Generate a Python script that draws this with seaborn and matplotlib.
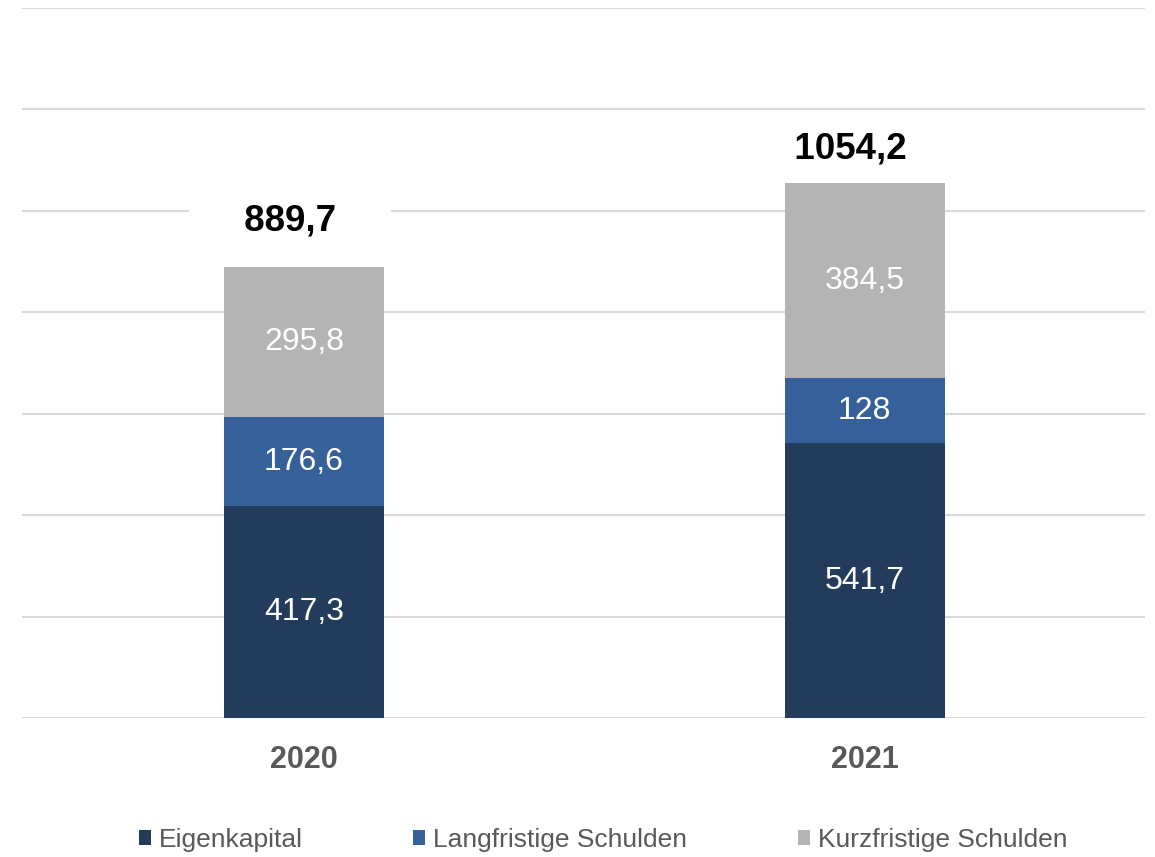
import matplotlib
matplotlib.use("Agg")
import matplotlib.pyplot as plt
import seaborn as sns
import numpy as np
import pandas as pd
from matplotlib.patches import Patch

years = ["2020", "2021"]
eigenkapital = [417.3, 541.7]
langfristig = [176.6, 128.0]
kurzfristig = [295.8, 384.5]
series_names = ["Eigenkapital", "Langfristige Schulden", "Kurzfristige Schulden"]
colors = ["#243C5C", "#36609A", "#B4B4B4"]

sns.set_theme(style="white")
plt.rcParams["font.family"] = ["Liberation Sans", "DejaVu Sans"]

fig = plt.figure(figsize=(11.55, 8.57), dpi=100)
ax = fig.add_axes([0.019, 0.162, 0.972, 0.8287])

def fmt(v):
    return f"{round(v, 1):g}".replace(".", ",")

series = [eigenkapital, langfristig, kurzfristig]
bottom = np.zeros(len(years))
for name, vals, col in zip(series_names, series, colors):
    df = pd.DataFrame({"Jahr": years, "Wert": vals})
    sns.barplot(data=df, x="Jahr", y="Wert", color=col, width=0.285,
                bottom=bottom.copy(), errorbar=None, ax=ax, linewidth=0,
                saturation=1, zorder=2)
    container = ax.containers[-1]
    ax.bar_label(container, labels=[fmt(v) for v in vals], label_type="center",
                 color="white", fontsize=23)
    bottom = bottom + np.array(vals)

label_offsets = [33, 25]
for i, tot in enumerate(bottom):
    ax.annotate("     " + fmt(tot) + "     ", xy=(i - 0.025, tot),
                xytext=(0, label_offsets[i]),
                textcoords="offset points", ha="center", va="center",
                fontsize=26.5, fontweight="bold", color="black",
                bbox=dict(boxstyle="square,pad=0.1", fc="white", ec="none"),
                zorder=4)

ax.set_ylim(0, 1400)
ax.set_xlim(-0.503, 1.499)
ax.set_yticks(np.arange(0, 1401, 200))
ax.yaxis.grid(True, color="#D9D9D9", linewidth=1.5)
ax.set_axisbelow(True)
ax.set_yticklabels([])
ax.tick_params(axis="y", length=0)
ax.tick_params(axis="x", length=0, pad=19, labelsize=22, labelcolor="#595959")
for lbl in ax.get_xticklabels():
    lbl.set_fontweight("bold")
ax.set_xlabel("")
ax.set_ylabel("")
for s in ax.spines.values():
    s.set_visible(False)

handles = [Patch(facecolor=c, edgecolor="none", label=n) for n, c in zip(series_names, colors)]
leg = fig.legend(handles=handles, loc="center", bbox_to_anchor=(0.522, 0.02), ncol=3,
                 frameon=False, fontsize=19, handlelength=0.45, handleheight=0.45,
                 handletextpad=0.3, columnspacing=4.2)
for t in leg.get_texts():
    t.set_color("#595959")

fig.savefig("out.png", dpi=100)
